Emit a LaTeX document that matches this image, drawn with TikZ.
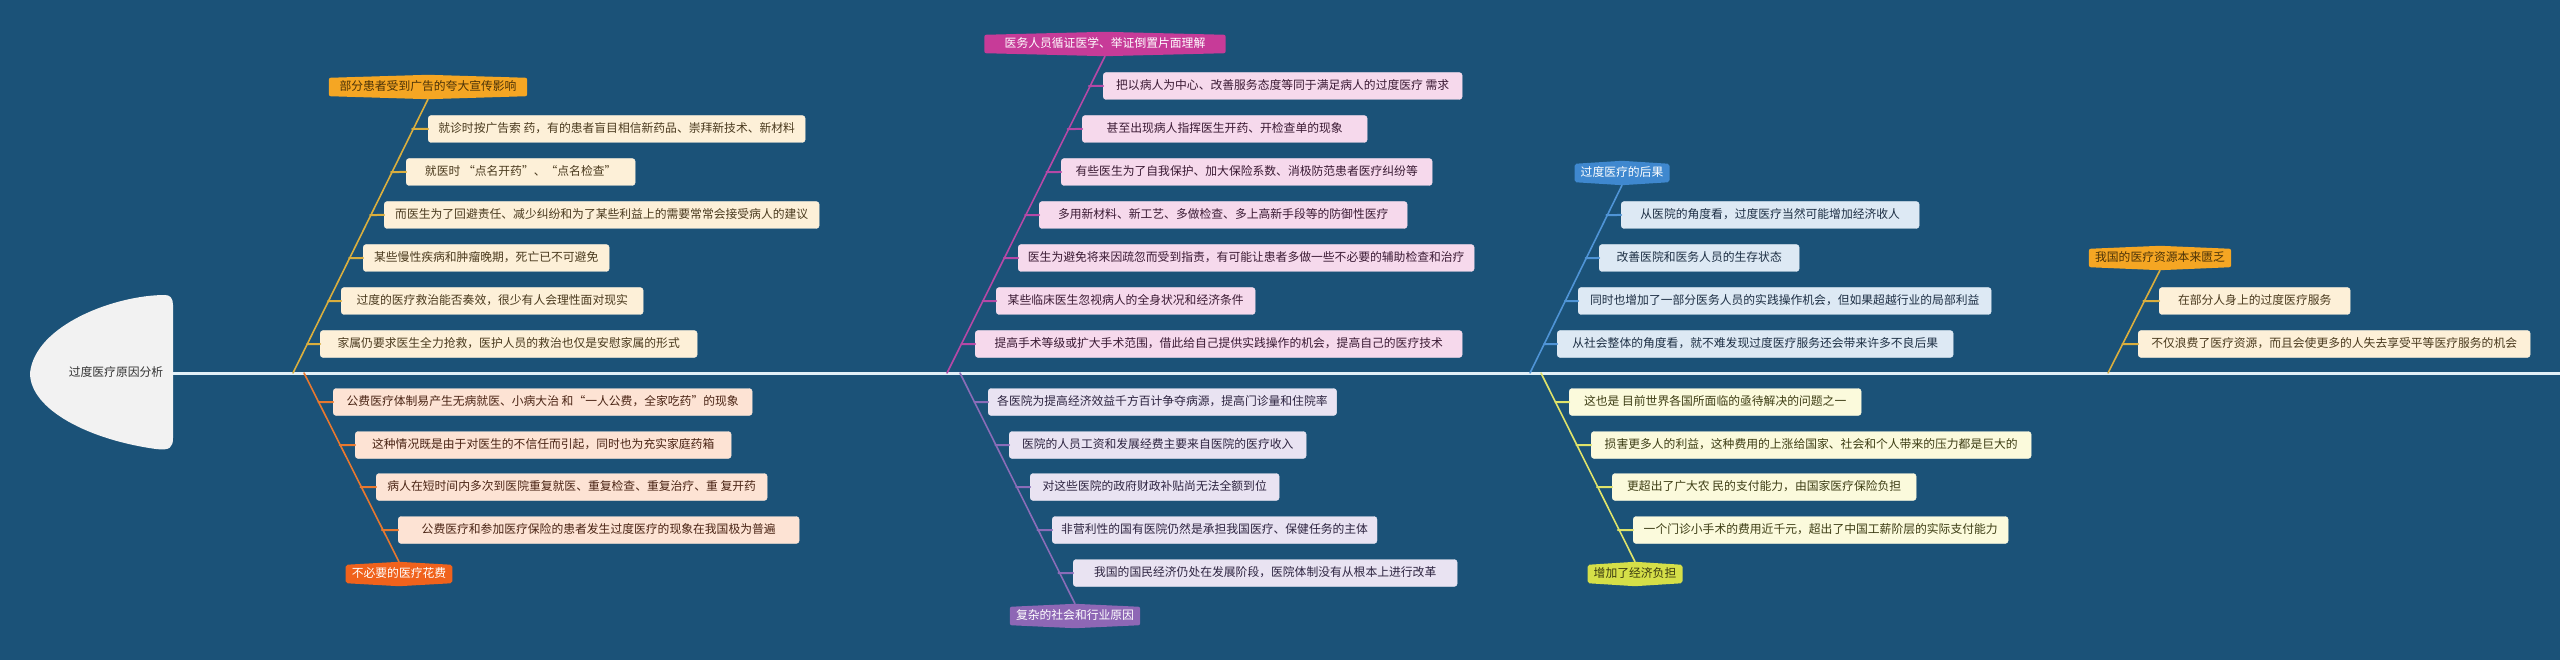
\documentclass[tikz,border=0pt]{standalone}
\usepackage{fontspec}
\setmainfont{Noto Sans CJK SC}
\usetikzlibrary{backgrounds,calc}
\definecolor{sea}{HTML}{1B5278}
\definecolor{spinecol}{HTML}{E2F0F8}
\definecolor{headfill}{HTML}{F2F2F2}
\definecolor{headink}{HTML}{333333}
% one set of colours per bone: tag, tag text, line, box, box text
\definecolor{goldtag}{HTML}{F5A623}\definecolor{goldtagink}{HTML}{4A3208}
\definecolor{goldline}{HTML}{D9AE3E}\definecolor{goldbox}{HTML}{FDF0D8}\definecolor{goldink}{HTML}{4A3A1E}
\definecolor{orangetag}{HTML}{F0621C}\definecolor{orangetagink}{HTML}{FFFFFF}
\definecolor{orangeline}{HTML}{E8782F}\definecolor{orangebox}{HTML}{FDE3D4}\definecolor{orangeink}{HTML}{4A2414}
\definecolor{pinktag}{HTML}{C73B98}\definecolor{pinktagink}{HTML}{FFFFFF}
\definecolor{pinkline}{HTML}{B548A6}\definecolor{pinkbox}{HTML}{F6D9EC}\definecolor{pinkink}{HTML}{3A1A33}
\definecolor{violettag}{HTML}{8E67B5}\definecolor{violettagink}{HTML}{FFFFFF}
\definecolor{violetline}{HTML}{8A6CB8}\definecolor{violetbox}{HTML}{E9E3F2}\definecolor{violetink}{HTML}{2D2440}
\definecolor{bluetag}{HTML}{3F88CF}\definecolor{bluetagink}{HTML}{FFFFFF}
\definecolor{blueline}{HTML}{4F94D6}\definecolor{bluebox}{HTML}{DDE9F4}\definecolor{blueink}{HTML}{1D2F44}
\definecolor{limetag}{HTML}{D5DF48}\definecolor{limetagink}{HTML}{3A3A10}
\definecolor{limeline}{HTML}{DFE36A}\definecolor{limebox}{HTML}{FBFADC}\definecolor{limeink}{HTML}{3D3D14}
\begin{document}
\begin{tikzpicture}[x=1pt,y=-1pt,font=\fontsize{11.8}{14}\selectfont,line cap=round,line join=round,
  leaf/.style={anchor=west,rounded corners=3pt,inner xsep=9pt,inner ysep=0pt,minimum height=27pt,
    text height=9.5pt,text depth=2.5pt,fill=#1box,draw=#1box!80!white,text=#1ink},
  tag/.style={inner xsep=6pt,inner ysep=0pt,minimum height=18pt,text height=9.5pt,text depth=2.5pt,text=#1tagink},
  bone/.style={draw=#1line,line width=1.6pt},
  twig/.style={draw=#1line,line width=2pt}]
\useasboundingbox (0,0) rectangle (2560,660);
% head of the fish
\fill[headfill] (165,295) .. controls (115,295) and (35,325) .. (30,373)
  .. controls (30,410) and (90,440) .. (156,449)
  .. controls (170,451) and (173,447) .. (173,438) -- (173,305)
  .. controls (173,298) and (170,295) .. (165,295) -- cycle;
\node[text=headink,text height=9.5pt,text depth=2.5pt] (root) at (116,373) {过度医疗原因分析};
\coordinate (neck) at (173,373);
\coordinate (tail) at (2560,373);
\draw[spinecol,line width=3pt,line cap=butt] (neck) -- (tail);
% bone tags
\node[tag=gold,minimum width=198pt] (T1) at (428,87) {部分患者受到广告的夸大宣传影响};
\node[tag=orange] (T2) at (399,574) {不必要的医疗花费};
\node[tag=pink,minimum width=241pt] (T3) at (1105,44) {医务人员循证医学、举证倒置片面理解};
\node[tag=violet] (T4) at (1075,616) {复杂的社会和行业原因};
\node[tag=blue] (T5) at (1622,173) {过度医疗的后果};
\node[tag=lime] (T6) at (1635,574) {增加了经济负担};
\node[tag=gold] (T7) at (2160,258) {我国的医疗资源本来匮乏};
\coordinate (S1) at (293,373);
\coordinate (S2) at (304,373);
\coordinate (S3) at (947,373);
\coordinate (S4) at (960,373);
\coordinate (S5) at (1530,373);
\coordinate (S6) at (1541,373);
\coordinate (S7) at (2108,373);
\draw[bone=gold] ($(T1.south)+(0,3)$) -- (S1);
\draw[bone=orange] (S2) -- ($(T2.north)+(0,-3)$);
\draw[bone=pink] ($(T3.south)+(0,3)$) -- (S3);
\draw[bone=violet] (S4) -- ($(T4.north)+(0,-3)$);
\draw[bone=blue] ($(T5.south)+(0,3)$) -- (S5);
\draw[bone=lime] (S6) -- ($(T6.north)+(0,-3)$);
\draw[bone=gold] ($(T7.south)+(0,3)$) -- (S7);
% leaves
\foreach \n/\x/\y/\w/\t in {1/428/129/377/就诊时按广告索 药，有的患者盲目相信新药品、崇拜新技术、新材料,
    2/406/172/229/就医时 “点名开药”、“点名检查”,
    3/384/215/435/而医生为了回避责任、减少纠纷和为了某些利益上的需要常常会接受病人的建议,
    4/363/258/246/某些慢性疾病和肿瘤晚期，死亡已不可避免,
    5/341/301/302/过度的医疗救治能否奏效，很少有人会理性面对现实,
    6/320/344/377/家属仍要求医生全力抢救，医护人员的救治也仅是安慰家属的形式}{
  \node[leaf=gold,minimum width=\w pt] (A\n) at (\x,\y) {\t};
  \draw[twig=gold] (A\n.west) -- (intersection of A\n.west--A\n.east and T1.south--S1);
}
\foreach \n/\x/\y/\w/\t in {1/333/402/419/公费医疗体制易产生无病就医、小病大治 和“一人公费，全家吃药”的现象,
    2/355/445/376/这种情况既是由于对医生的不信任而引起，同时也为充实家庭药箱,
    3/376/487/391/病人在短时间内多次到医院重复就医、重复检查、重复治疗、重 复开药,
    4/398/530/401/公费医疗和参加医疗保险的患者发生过度医疗的现象在我国极为普遍}{
  \node[leaf=orange,minimum width=\w pt] (B\n) at (\x,\y) {\t};
  \draw[twig=orange] (B\n.west) -- (intersection of B\n.west--B\n.east and T2.north--S2);
}
\foreach \n/\x/\y/\w/\t in {1/1103/86/359/把以病人为中心、改善服务态度等同于满足病人的过度医疗 需求,
    2/1082/129/285/甚至出现病人指挥医生开药、开检查单的现象,
    3/1061/172/371/有些医生为了自我保护、加大保险系数、消极防范患者医疗纠纷等,
    4/1039/215/368/多用新材料、新工艺、多做检查、多上高新手段等的防御性医疗,
    5/1018/258/456/医生为避免将来因疏忽而受到指责，有可能让患者多做一些不必要的辅助检查和治疗,
    6/996/301/259/某些临床医生忽视病人的全身状况和经济条件,
    7/975/344/487/提高手术等级或扩大手术范围，借此给自己提供实践操作的机会，提高自己的医疗技术}{
  \node[leaf=pink,minimum width=\w pt] (C\n) at (\x,\y) {\t};
  \draw[twig=pink] (C\n.west) -- (intersection of C\n.west--C\n.east and T3.south--S3);
}
\foreach \n/\x/\y/\w/\t in {1/988/402/348/各医院为提高经济效益千方百计争夺病源，提高门诊量和住院率,
    2/1009/445/297/医院的人员工资和发展经费主要来自医院的医疗收入,
    3/1030/487/249/对这些医院的政府财政补贴尚无法全额到位,
    4/1052/530/324/非营利性的国有医院仍然是承担我国医疗、保健任务的主体,
    5/1073/573/384/我国的国民经济仍处在发展阶段，医院体制没有从根本上进行改革}{
  \node[leaf=violet,minimum width=\w pt] (D\n) at (\x,\y) {\t};
  \draw[twig=violet] (D\n.west) -- (intersection of D\n.west--D\n.east and T4.north--S4);
}
\foreach \n/\x/\y/\w/\t in {1/1621/215/298/从医院的角度看，过度医疗当然可能增加经济收人,
    2/1599/258/200/改善医院和医务人员的生存状态,
    3/1578/301/413/同时也增加了一部分医务人员的实践操作机会，但如果超越行业的局部利益,
    4/1557/344/396/从社会整体的角度看，就不难发现过度医疗服务还会带来许多不良后果}{
  \node[leaf=blue,minimum width=\w pt] (E\n) at (\x,\y) {\t};
  \draw[twig=blue] (E\n.west) -- (intersection of E\n.west--E\n.east and T5.south--S5);
}
\foreach \n/\x/\y/\w/\t in {1/1569/402/292/这也是 目前世界各国所面临的亟待解决的问题之一,
    2/1591/445/440/损害更多人的利益，这种费用的上涨给国家、社会和个人带来的压力都是巨大的,
    3/1612/487/304/更超出了广大农 民的支付能力，由国家医疗保险负担,
    4/1633/530/375/一个门诊小手术的费用近千元，超出了中国工薪阶层的实际支付能力}{
  \node[leaf=lime,minimum width=\w pt] (F\n) at (\x,\y) {\t};
  \draw[twig=lime] (F\n.west) -- (intersection of F\n.west--F\n.east and T6.north--S6);
}
\foreach \n/\x/\y/\w/\t in {1/2159/301/191/在部分人身上的过度医疗服务,
    2/2138/344/392/不仅浪费了医疗资源，而且会使更多的人失去享受平等医疗服务的机会}{
  \node[leaf=gold,minimum width=\w pt] (G\n) at (\x,\y) {\t};
  \draw[twig=gold] (G\n.west) -- (intersection of G\n.west--G\n.east and T7.south--S7);
}
% sea and tag plates behind everything
\begin{scope}[on background layer]
  \fill[sea] (0,0) rectangle (2560,660);
  \foreach \t/\c in {T1/goldtag,T2/orangetag,T3/pinktag,T4/violettag,T5/bluetag,T6/limetag,T7/goldtag}
    \fill[\c,rounded corners=2pt] (\t.south west) -- (\t.north west) -- ($(\t.north)+(0,-3)$)
      -- (\t.north east) -- (\t.south east) -- ($(\t.south)+(0,3)$) -- cycle;
\end{scope}
\end{tikzpicture}
\end{document}
